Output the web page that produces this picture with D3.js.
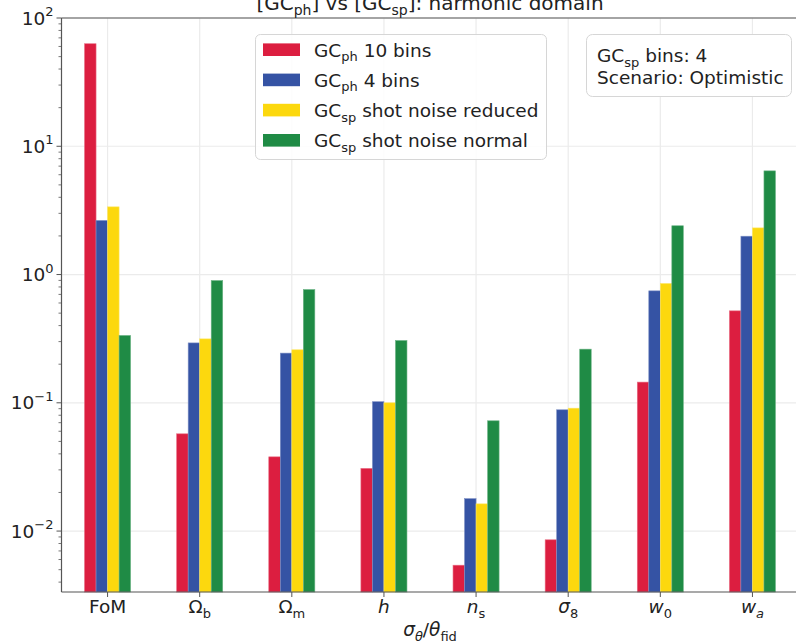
<!DOCTYPE html>
<html>
<head>
<meta charset="utf-8">
<script src="https://cdn.jsdelivr.net/npm/d3@7"></script>
<style>
  body { margin: 0; background: #fff; }
  svg { display: block; font-family: "DejaVu Sans", sans-serif; }
</style>
</head>
<body>
<div id="chart"></div>
<script>
// Parameters on the x axis and the ratio sigma/theta_fid per configuration
const categories = ["FoM", "Omega_b", "Omega_m", "h", "n_s", "sigma_8", "w_0", "w_a"];
const gcph10 = [63, 0.0573, 0.0379, 0.0308, 0.00542, 0.00855, 0.145, 0.521];
const gcph4 = [2.64, 0.293, 0.244, 0.102, 0.0179, 0.0882, 0.746, 1.99];
const gcspReduced = [3.37, 0.315, 0.259, 0.100, 0.0163, 0.0908, 0.851, 2.31];
const gcspNormal = [0.335, 0.898, 0.764, 0.306, 0.0724, 0.262, 2.40, 6.43];
const yTickValues = [1e-2, 1e-1, 1e0, 1e1, 1e2];
const yTickExponents = ["\u22122", "\u22121", "0", "1", "2"];

// tick label pieces: [text, italic?, subscript?]
const tickLabelParts = {
    "FoM": [["FoM", false, false]],
    "Omega_b": [["\u03A9", false, false], ["b", false, true]],
    "Omega_m": [["\u03A9", false, false], ["m", false, true]],
    "h": [["h", true, false]],
    "n_s": [["n", true, false], ["s", false, true]],
    "sigma_8": [["\u03C3", true, false], ["8", false, true]],
    "w_0": [["w", true, false], ["0", false, true]],
    "w_a": [["w", true, false], ["a", true, true]]
};

const seriesKeys = ["gcph10", "gcph4", "gcspReduced", "gcspNormal"];
const seriesValues = [gcph10, gcph4, gcspReduced, gcspNormal];
const colors = ["#dc1e40", "#3553a4", "#fcd80e", "#1f8b45"];

const W = 796, H = 644;
const margin = {top: 18, bottom: 52, left: 61.5};
const plotRight = 798.5; // axes run slightly past the window edge
const fs = 18.5, fsSub = 13;

const svg = d3.select("#chart").append("svg")
    .attr("width", W)
    .attr("height", H);

const x = d3.scaleBand()
    .domain(categories)
    .range([margin.left, plotRight])
    .padding(0);

const xInner = d3.scaleBand()
    .domain(seriesKeys)
    .range([-x.bandwidth() / 4, x.bandwidth() / 4]);

const y = d3.scaleLog()
    .domain([Math.pow(10, -2.475), 100])
    .range([H - margin.bottom, margin.top]);

const center = c => x(c) + x.bandwidth() / 2;

// grid
const grid = svg.append("g").attr("stroke", "#ebebeb").attr("stroke-width", 1.2);
grid.selectAll(".vg").data(categories).enter().append("line")
    .attr("x1", d => center(d)).attr("x2", d => center(d))
    .attr("y1", margin.top).attr("y2", H - margin.bottom);
grid.selectAll(".hg").data(yTickValues).enter().append("line")
    .attr("x1", margin.left).attr("x2", plotRight)
    .attr("y1", d => y(d)).attr("y2", d => y(d));

// bars
const groups = svg.selectAll(".series")
    .data(seriesKeys)
    .enter().append("g")
    .attr("fill", (d, i) => colors[i])
    .attr("stroke", (d, i) => d3.interpolateRgb(colors[i], "#fff")(0.35))
    .attr("stroke-width", 0.6);

groups.selectAll("rect")
    .data((k, i) => categories.map((c, j) => ({c: c, k: k, v: seriesValues[i][j]})))
    .enter().append("rect")
    .attr("x", d => center(d.c) + xInner(d.k))
    .attr("width", xInner.bandwidth())
    .attr("y", d => y(d.v))
    .attr("height", d => y.range()[0] - y(d.v));

// spines
const spineColor = "#555";
svg.append("line").attr("x1", margin.left).attr("x2", margin.left)
    .attr("y1", margin.top).attr("y2", H - margin.bottom)
    .attr("stroke", spineColor).attr("stroke-width", 1.2);
svg.append("line").attr("x1", margin.left).attr("x2", plotRight)
    .attr("y1", H - margin.bottom).attr("y2", H - margin.bottom)
    .attr("stroke", spineColor).attr("stroke-width", 1.2);
svg.append("line").attr("x1", margin.left).attr("x2", plotRight)
    .attr("y1", margin.top).attr("y2", margin.top)
    .attr("stroke", spineColor).attr("stroke-width", 1.2);

// y ticks (major + minor)
const minorTicks = y.ticks().filter(t => yTickValues.indexOf(t) < 0);
svg.append("g").selectAll("line").data(minorTicks).enter().append("line")
    .attr("x1", margin.left - 3).attr("x2", margin.left)
    .attr("y1", d => y(d)).attr("y2", d => y(d))
    .attr("stroke", spineColor).attr("stroke-width", 0.8);
svg.append("g").selectAll("line").data(yTickValues).enter().append("line")
    .attr("x1", margin.left - 5).attr("x2", margin.left)
    .attr("y1", d => y(d)).attr("y2", d => y(d))
    .attr("stroke", spineColor).attr("stroke-width", 1);

const yLabels = svg.append("g").selectAll("text").data(yTickValues).enter().append("text")
    .attr("x", margin.left - 8)
    .attr("y", d => y(d) + 6.5)
    .attr("text-anchor", "end")
    .attr("font-size", fs)
    .attr("fill", "#222");
yLabels.append("tspan").text("10");
yLabels.append("tspan").attr("dy", -8.5).attr("font-size", fsSub)
    .text((d, i) => yTickExponents[i]);

// x ticks
svg.append("g").selectAll("line").data(categories).enter().append("line")
    .attr("x1", d => center(d)).attr("x2", d => center(d))
    .attr("y1", H - margin.bottom).attr("y2", H - margin.bottom + 5)
    .attr("stroke", spineColor).attr("stroke-width", 1);

const xLabels = svg.append("g").selectAll("text").data(categories).enter().append("text")
    .attr("x", d => center(d))
    .attr("y", 613)
    .attr("text-anchor", "middle")
    .attr("font-size", fs)
    .attr("fill", "#222");
xLabels.each(function(c) {
    const t = d3.select(this);
    let sub = false;
    tickLabelParts[c].forEach(p => {
        const s = t.append("tspan").text(p[0])
            .attr("font-style", p[1] ? "italic" : "normal");
        if (p[2] && !sub) { s.attr("dy", 4.5).attr("font-size", fsSub); sub = true; }
    });
});

// x axis label sigma_theta / theta_fid
const xl = svg.append("text")
    .attr("x", (margin.left + plotRight) / 2)
    .attr("y", 636)
    .attr("text-anchor", "middle")
    .attr("font-size", fs)
    .attr("fill", "#222");
xl.append("tspan").attr("font-style", "italic").text("\u03C3");
xl.append("tspan").attr("font-style", "italic").attr("font-size", fsSub).attr("dy", 4.5).text("\u03B8");
xl.append("tspan").attr("dy", -4.5).text("/");
xl.append("tspan").attr("font-style", "italic").text("\u03B8");
xl.append("tspan").attr("font-size", fsSub).attr("dy", 4.5).text("fid");

// title (its top is cut by the window, as in the original figure)
const title = svg.append("text")
    .attr("x", (margin.left + plotRight) / 2)
    .attr("y", 10)
    .attr("text-anchor", "middle")
    .attr("font-size", 20)
    .attr("fill", "#222");
title.append("tspan").text("[GC");
title.append("tspan").attr("font-size", 14).attr("dy", 4.5).text("ph");
title.append("tspan").attr("dy", -4.5).text("] vs [GC");
title.append("tspan").attr("font-size", 14).attr("dy", 4.5).text("sp");
title.append("tspan").attr("dy", -4.5).text("]: harmonic domain");

// legend
const legendLabels = [
    ["GC", "ph", " 10 bins"],
    ["GC", "ph", " 4 bins"],
    ["GC", "sp", " shot noise reduced"],
    ["GC", "sp", " shot noise normal"]
];
const legend = svg.append("g");
legend.append("rect")
    .attr("x", 255.5).attr("y", 34.5).attr("width", 291).attr("height", 125)
    .attr("rx", 5).attr("fill", "rgba(255,255,255,0.85)")
    .attr("stroke", "#d6d6d6").attr("stroke-width", 1);
const items = legend.selectAll(".item").data(seriesKeys).enter().append("g")
    .attr("transform", (d, i) => `translate(0, ${49.7 + i * 30.2})`);
items.append("rect")
    .attr("x", 263).attr("y", -6.3).attr("width", 37).attr("height", 12.6)
    .attr("fill", (d, i) => colors[i]);
const lt = items.append("text")
    .attr("x", 314).attr("y", 7)
    .attr("font-size", fs).attr("fill", "#222");
lt.append("tspan").text((d, i) => legendLabels[i][0]);
lt.append("tspan").attr("font-size", fsSub).attr("dy", 4.5).text((d, i) => legendLabels[i][1]);
lt.append("tspan").attr("dy", -4.5).text((d, i) => legendLabels[i][2]);

// info box
const info = svg.append("g");
info.append("rect")
    .attr("x", 586.5).attr("y", 34.5).attr("width", 205).attr("height", 62)
    .attr("rx", 6).attr("fill", "#fff")
    .attr("stroke", "#d6d6d6").attr("stroke-width", 1);
const i1 = info.append("text").attr("x", 597).attr("y", 62)
    .attr("font-size", fs).attr("fill", "#222");
i1.append("tspan").text("GC");
i1.append("tspan").attr("font-size", fsSub).attr("dy", 4.5).text("sp");
i1.append("tspan").attr("dy", -4.5).text(" bins: 4");
info.append("text").attr("x", 597).attr("y", 84)
    .attr("font-size", fs).attr("fill", "#222")
    .text("Scenario: Optimistic");
</script>
</body>
</html>
